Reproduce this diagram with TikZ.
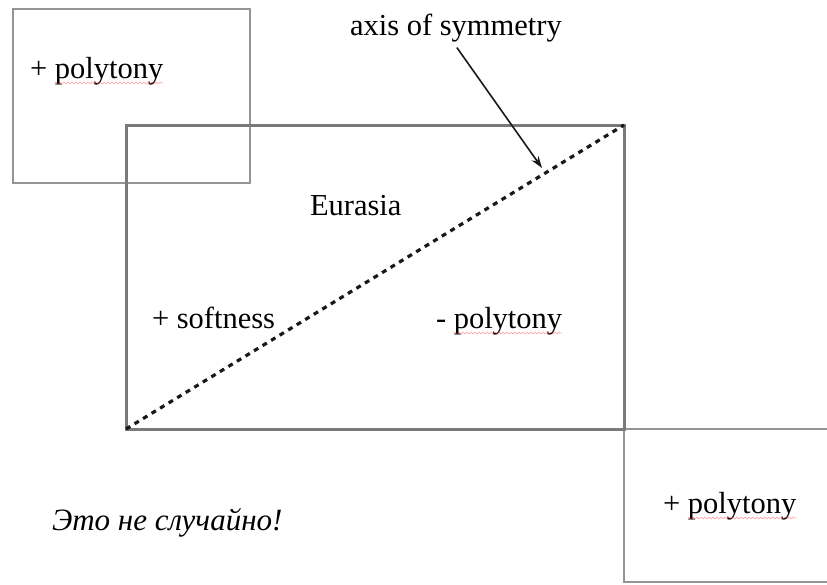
\documentclass[tikz,border=0pt]{standalone}
\usepackage{fontspec}
\setmainfont{Liberation Serif}
\usetikzlibrary{arrows.meta,decorations.pathmorphing}
\begin{document}
\begin{tikzpicture}[x=1pt,y=-1pt,
  txt/.style={inner sep=0pt, outer sep=0pt, font=\fontsize{30.5}{36}\selectfont, text=black, anchor=base west},
  thinbox/.style={draw=black!42, line width=2pt, inner sep=0pt, outer sep=0pt, rectangle},
  bigbox/.style={draw=black!52, line width=3pt, inner sep=0pt, outer sep=0pt, rectangle},
  axisline/.style={draw=black!90, line width=3.2pt, dash pattern=on 5pt off 5pt},
  arr/.style={draw=black!90, line width=1.6pt, -{Stealth[length=12pt,width=8pt]}},
  squig/.style={draw=red!75, line width=0.7pt, opacity=0.45, decorate, decoration={snake, amplitude=0.9pt, segment length=4pt}}]
\useasboundingbox (0,0) rectangle (827,584);
\clip (0,0) rectangle (827,584);
\fill[white] (0,0) rectangle (827,584);
% boxes
\node[thinbox, minimum width=237pt, minimum height=174pt] (tl) at (131.5,96) {};
\node[thinbox, minimum width=300pt, minimum height=153pt] (br) at (774,505.5) {};
\node[bigbox, minimum width=498pt, minimum height=304pt] (eur) at (375,277) {};
% axis of symmetry
\draw[axisline] (eur.south west) -- (eur.north east);
% texts
\node[txt] (tlp) at (30,78) {+};
\node[txt] (tlw) at ([xshift=7.6pt]tlp.base east) {polytony};
\draw[squig] ([yshift=-5pt]tlw.base west) -- ([yshift=-5pt]tlw.base east);
\node[txt] (ax) at (350,35) {axis of symmetry};
\node[txt] (eu) at (310,215) {Eurasia};
\node[txt] (soft) at (152,328) {+ softness};
\node[txt] (mp) at (436,328) {-};
\node[txt] (mpw) at ([xshift=7.6pt]mp.base east) {polytony};
\draw[squig] ([yshift=-5pt]mpw.base west) -- ([yshift=-5pt]mpw.base east);
\node[txt] (brp) at (663,513) {+};
\node[txt] (brw) at ([xshift=7.6pt]brp.base east) {polytony};
\draw[squig] ([yshift=-5pt]brw.base west) -- ([yshift=-5pt]brw.base east);
\node[txt, font=\fontsize{31}{36}\selectfont\itshape] (ru) at (52,530) {Это не случайно!};
% arrow
\coordinate (tip) at (542,168);
\draw[arr] ([xshift=1pt,yshift=-6pt]ax.south) -- (tip);
\end{tikzpicture}
\end{document}
